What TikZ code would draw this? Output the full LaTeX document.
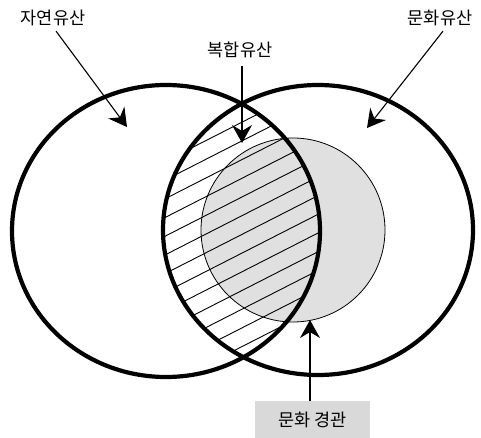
\documentclass[tikz,border=0pt]{standalone}
\usepackage{fontspec}
\usepackage{tikz}
\usetikzlibrary{arrows.meta}
\newfontfamily\korfont{Noto Sans CJK KR}

\begin{document}
\begin{tikzpicture}[x=1pt, y=-1pt,
    tagtext/.style={font=\korfont\fontsize{17.5}{19}\selectfont, inner sep=0pt},
    heritage/.style={line width=4.2pt},
    pointer/.style={line width=1.1pt, -{Stealth[length=18pt, width=20pt, inset=6pt]}}]
                \useasboundingbox (0,0) rectangle (481,438);

                % Landscape
                \fill[gray!24] (293,230) circle[radius=92];
                % Hatching
                \begin{scope}
                    \clip (166,231) ellipse[x radius=154, y radius=146];
                    \clip (318,230) ellipse[x radius=155, y radius=145];
                    \foreach \k in {-5,...,11}
                        \draw[line width=0.9pt] (100,{301.7+18.7*\k-0.51*100}) -- (400,{301.7+18.7*\k-0.51*400});
                \end{scope}
                \draw[line width=0.8pt] (293,230) circle[radius=92];

                % Circles
                \draw[heritage] (166,231) ellipse[x radius=154, y radius=146];
                \draw[heritage] (318,230) ellipse[x radius=155, y radius=145];

                % Nodes
                \node[tagtext] (natural) at (53,18) {자연유산};
                \node[tagtext] (cultural) at (440,18) {문화유산};
                \node[tagtext] (mixed) at (240,50) {복합유산};
                \node[tagtext, fill=gray!30, minimum width=115pt, minimum height=37pt] (landscape) at (312.5,419.5) {문화 경관};
                \coordinate (naturaltip) at (127,127);
                \coordinate (culturaltip) at (367,128);
                \coordinate (mixedtip) at (242,143);
                \coordinate (landscapetip) at (310,320);

                % Edges
                \draw[pointer] (natural.south) ++(3,5) -- (naturaltip);
                \draw[pointer] (cultural.south) ++(3,5) -- (culturaltip);
                \draw[pointer] (mixed.south) ++(2,8) -- (mixedtip);
                \draw[pointer] (landscape.north -| landscapetip) -- (landscapetip);
\end{tikzpicture}
\end{document}
